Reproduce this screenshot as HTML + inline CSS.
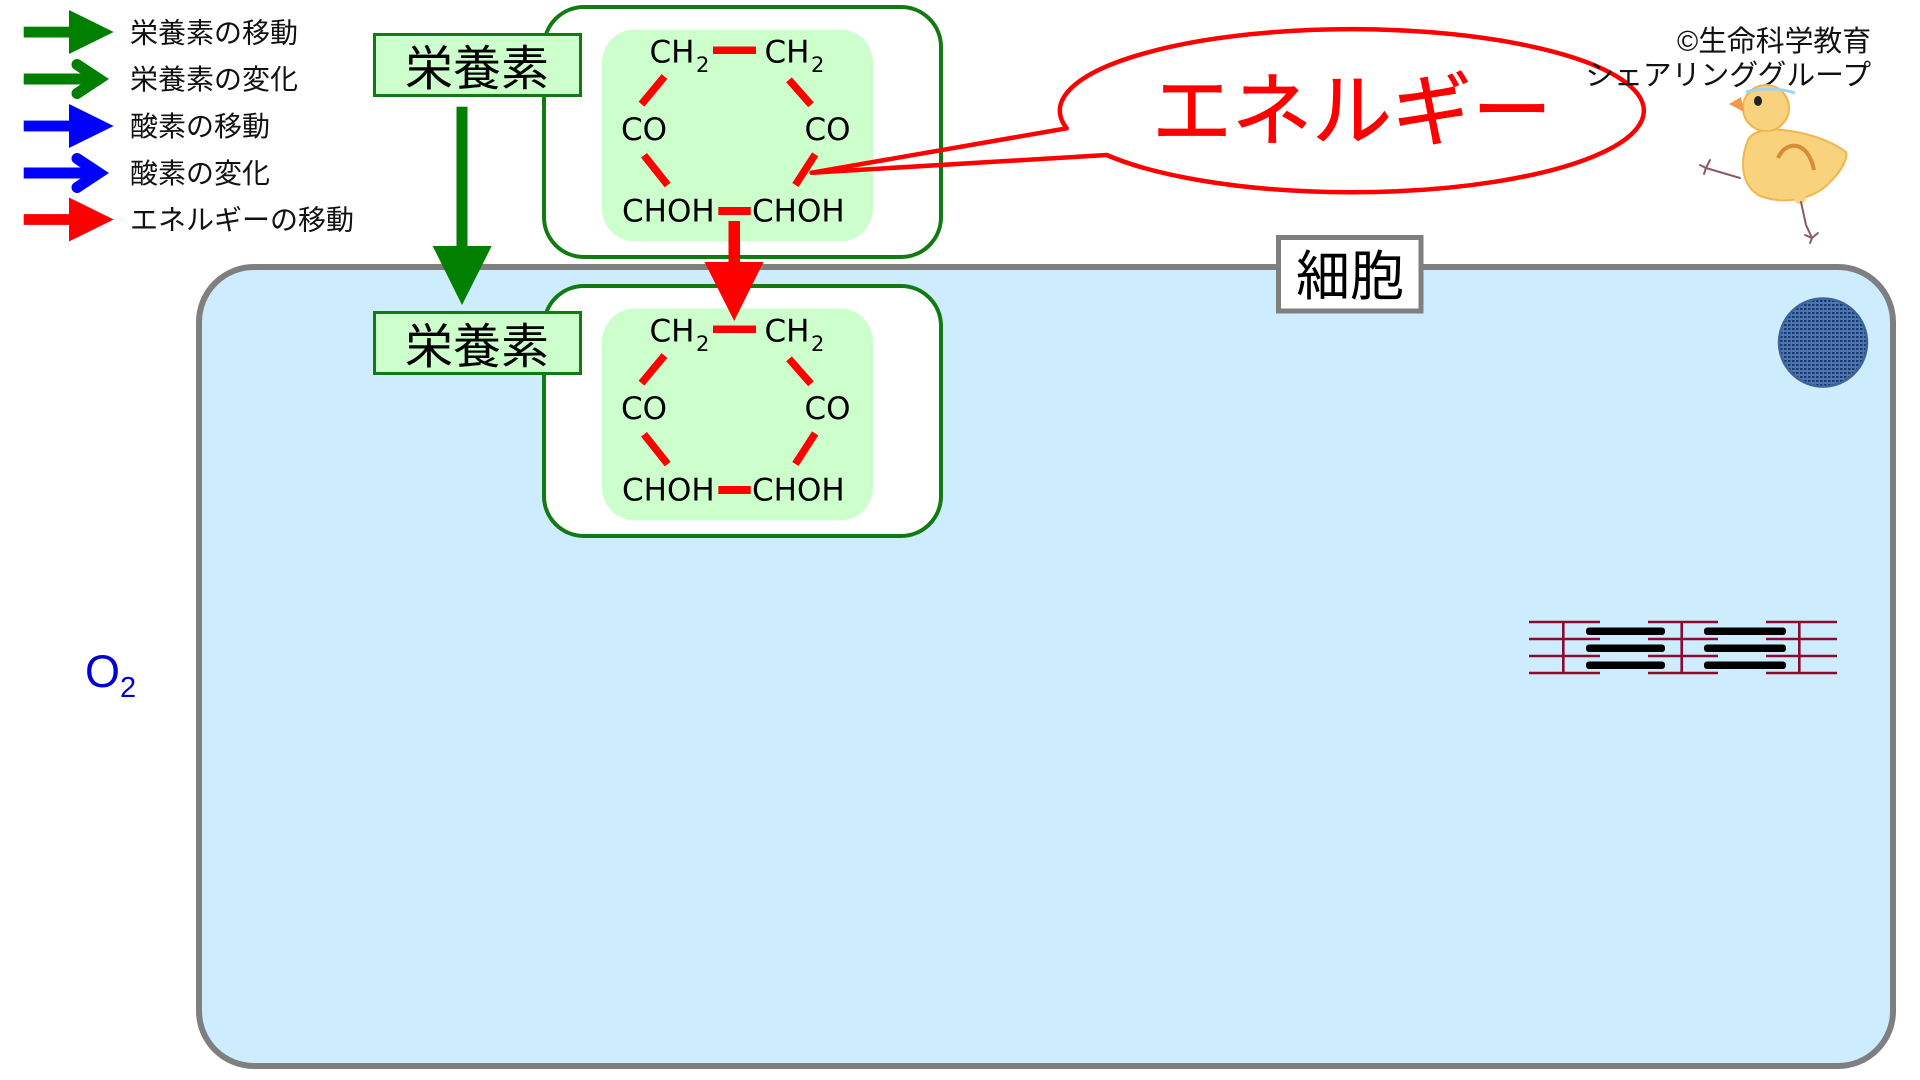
<!DOCTYPE html>
<html lang="ja">
<head>
<meta charset="utf-8">
<title>栄養素とエネルギー</title>
<style>
  html, body { margin: 0; padding: 0; background: #ffffff; }
  svg { display: block; }
  .jp { font-family: "Liberation Sans", "Noto Sans CJK JP", sans-serif; }
  .mol { font-family: "DejaVu Sans", "Liberation Sans", sans-serif; font-size: 31px; fill: #000; }
  .sub { font-family: "DejaVu Sans", "Liberation Sans", sans-serif; font-size: 21px; fill: #000; }
</style>
</head>
<body>
<svg width="1920" height="1080" viewBox="0 0 1920 1080" xmlns="http://www.w3.org/2000/svg">
  <defs>
    <pattern id="dots" width="4" height="4" patternUnits="userSpaceOnUse">
      <rect width="4" height="4" fill="#4a76b6"/>
      <rect x="0" y="0" width="2.5" height="2" fill="#1c3868"/>
    </pattern>
    <g id="molecule">
      <rect x="544" y="7" width="397" height="250" rx="40" ry="40" fill="#ffffff" stroke="#127a12" stroke-width="4"/>
      <rect x="602" y="29.5" width="271" height="212" rx="33" ry="33" fill="#ccffcc"/>
      <!-- text -->
      <text class="mol" x="649.5" y="62.7">CH</text>
      <text class="sub" x="696" y="72">2</text>
      <text class="mol" x="764.5" y="62.7">CH</text>
      <text class="sub" x="811" y="72">2</text>
      <text class="mol" x="621" y="140">CO</text>
      <text class="mol" x="804.5" y="140">CO</text>
      <text class="mol" x="622" y="221.7">CHOH</text>
      <text class="mol" x="752" y="221.7">CHOH</text>
      <!-- bonds -->
      <g stroke="#ff0000" stroke-width="7.5" stroke-linecap="butt" fill="none">
        <line x1="713" y1="50.3" x2="756" y2="50.3"/>
        <line x1="664.5" y1="76.5" x2="641.5" y2="104.2"/>
        <line x1="789" y1="79.8" x2="811" y2="104.8"/>
        <line x1="644" y1="155.3" x2="667.7" y2="185.1"/>
        <line x1="815.2" y1="154.4" x2="795.4" y2="185"/>
        <line x1="718.3" y1="211" x2="750.7" y2="211" stroke-width="8"/>
      </g>
    </g>
  </defs>

  <!-- Cell -->
  <rect x="199" y="267" width="1694" height="799" rx="55" ry="55" fill="#cdecfe" stroke="#7f7f7f" stroke-width="6"/>

  <!-- Legend -->
  <g>
    <rect x="23.7" y="26.7" width="46" height="10.8" fill="#007f00"/>
    <polygon points="69,10 113.7,32 69,54" fill="#007f00"/>
    <line x1="23.7" y1="79" x2="100" y2="79" stroke="#007f00" stroke-width="11"/>
    <polyline points="77,64.5 99,79 77,93.5" fill="none" stroke="#007f00" stroke-width="11" stroke-linecap="round" stroke-linejoin="miter"/>
    <rect x="23.7" y="120.6" width="46" height="10.8" fill="#0000ff"/>
    <polygon points="69,104 113.7,126 69,148" fill="#0000ff"/>
    <line x1="23.7" y1="173" x2="100" y2="173" stroke="#0000ff" stroke-width="11"/>
    <polyline points="77,158.5 99,173 77,187.5" fill="none" stroke="#0000ff" stroke-width="11" stroke-linecap="round" stroke-linejoin="miter"/>
    <rect x="23.7" y="214.1" width="46" height="10.8" fill="#ff0000"/>
    <polygon points="69,197.5 113.7,219.5 69,241.5" fill="#ff0000"/>

    <g class="jp" font-size="28" fill="#111">
      <text x="130" y="42.5">栄養素の移動</text>
      <text x="130" y="89.2">栄養素の変化</text>
      <text x="130" y="136">酸素の移動</text>
      <text x="130" y="183">酸素の変化</text>
      <text x="130" y="229.5">エネルギーの移動</text>
    </g>
  </g>

  <!-- Molecule boxes -->
  <use href="#molecule"/>
  <use href="#molecule" transform="translate(0,279)"/>

  <!-- 栄養素 boxes -->
  <rect x="374.5" y="34.5" width="206" height="61" fill="#ccffcc" stroke="#127a12" stroke-width="3"/>
  <text class="jp" x="477" y="85" font-size="48" text-anchor="middle" fill="#000">栄養素</text>
  <rect x="374.5" y="312.5" width="206" height="61" fill="#ccffcc" stroke="#127a12" stroke-width="3"/>
  <text class="jp" x="477" y="363" font-size="48" text-anchor="middle" fill="#000">栄養素</text>

  <!-- Green arrow down -->
  <rect x="456.5" y="106.7" width="11" height="140" fill="#007f00"/>
  <polygon points="432.7,246 491.7,246 462,305" fill="#007f00"/>

  <!-- Red arrow down -->
  <rect x="728.5" y="221" width="11.5" height="42" fill="#ff0000"/>
  <polygon points="704.5,262 763.5,262 734.2,321" fill="#ff0000"/>

  <!-- Speech bubble -->
  <path d="M 1066.7 128.3 L 811.7 172.7 L 1106.7 155 A 292 81.5 0 1 0 1066.7 128.3 Z" fill="none" stroke="#ff0000" stroke-width="4.5" stroke-linejoin="round"/>
  <text class="jp" x="1352" y="139" font-size="80" text-anchor="middle" fill="#ff0000" stroke="#ff0000" stroke-width="0.8">エネルギー</text>

  <!-- Copyright -->
  <g class="jp" font-size="28.8" fill="#111" text-anchor="end">
    <text x="1871" y="51">©生命科学教育</text>
    <text x="1871" y="85">シェアリンググループ</text>
  </g>

  <!-- Chick -->
  <g>
    <path d="M1748,140 C1740,160 1740,185 1760,196 C1785,205 1815,200 1832,180 C1842,170 1848,158 1846,152 C1830,140 1805,132 1782,130 C1765,128 1752,132 1748,140 Z" fill="#f8d27c" stroke="#f1b650" stroke-width="2"/>
    <circle cx="1766" cy="108" r="23" fill="#f8d27c" stroke="#f1b650" stroke-width="2"/>
    <polygon points="1729,104 1741,97 1744,112" fill="#f3984a"/>
    <ellipse cx="1758" cy="101" rx="4" ry="5" fill="#222"/>
    <path d="M1746,92 C1760,88 1780,88 1795,93" fill="none" stroke="#9fd6ea" stroke-width="3"/>
    <path d="M1778,158 C1786,140 1808,140 1814,170" fill="none" stroke="#d98a35" stroke-width="4"/>
    <circle cx="1800" cy="198" r="6" fill="#f8d27c"/>
    <g stroke="#8a5a6a" stroke-width="2" fill="none" stroke-linecap="round">
      <polyline points="1740,178 1706,168"/>
      <polyline points="1710,160 1706,168 1700,165"/>
      <polyline points="1706,168 1704,174"/>
      <polyline points="1801,202 1806,225 1812,238"/>
      <polyline points="1805,235 1812,238 1818,233"/>
      <polyline points="1812,238 1810,243"/>
    </g>
  </g>

  <!-- 細胞 label -->
  <rect x="1278.5" y="237.5" width="142.5" height="73.5" fill="#ffffff" stroke="#7f7f7f" stroke-width="5"/>
  <text class="jp" x="1350" y="295" font-size="54" text-anchor="middle" fill="#000">細胞</text>

  <!-- Blue circle -->
  <circle cx="1823" cy="342.5" r="44" fill="url(#dots)" stroke="#3c6496" stroke-width="2.5"/>

  <!-- O2 -->
  <text x="85" y="687" font-family="Liberation Sans, DejaVu Sans, sans-serif" font-size="45" fill="#0000d0">O</text>
  <text x="120" y="697" font-family="Liberation Sans, DejaVu Sans, sans-serif" font-size="29" fill="#0000d0">2</text>

  <!-- Sarcomere -->
  <g>
    <g stroke="#8b0a2e" stroke-width="2.6" fill="none">
      <line x1="1563.3" y1="622" x2="1563.3" y2="673"/>
      <line x1="1681.7" y1="622" x2="1681.7" y2="673"/>
      <line x1="1799.3" y1="622" x2="1799.3" y2="673"/>
      <line x1="1529" y1="622" x2="1600" y2="622"/>
      <line x1="1529" y1="639" x2="1600" y2="639"/>
      <line x1="1529" y1="656" x2="1600" y2="656"/>
      <line x1="1529" y1="673" x2="1600" y2="673"/>
      <line x1="1648" y1="622" x2="1718" y2="622"/>
      <line x1="1648" y1="639" x2="1718" y2="639"/>
      <line x1="1648" y1="656" x2="1718" y2="656"/>
      <line x1="1648" y1="673" x2="1718" y2="673"/>
      <line x1="1766" y1="622" x2="1837" y2="622"/>
      <line x1="1766" y1="639" x2="1837" y2="639"/>
      <line x1="1766" y1="656" x2="1837" y2="656"/>
      <line x1="1766" y1="673" x2="1837" y2="673"/>
    </g>
    <g fill="#000">
      <rect x="1586" y="627.5" width="79" height="7.5" rx="3"/>
      <rect x="1586" y="644.5" width="79" height="7.5" rx="3"/>
      <rect x="1586" y="661.5" width="79" height="7.5" rx="3"/>
      <rect x="1704" y="627.5" width="82" height="7.5" rx="3"/>
      <rect x="1704" y="644.5" width="82" height="7.5" rx="3"/>
      <rect x="1704" y="661.5" width="82" height="7.5" rx="3"/>
    </g>
  </g>
</svg>
</body>
</html>
